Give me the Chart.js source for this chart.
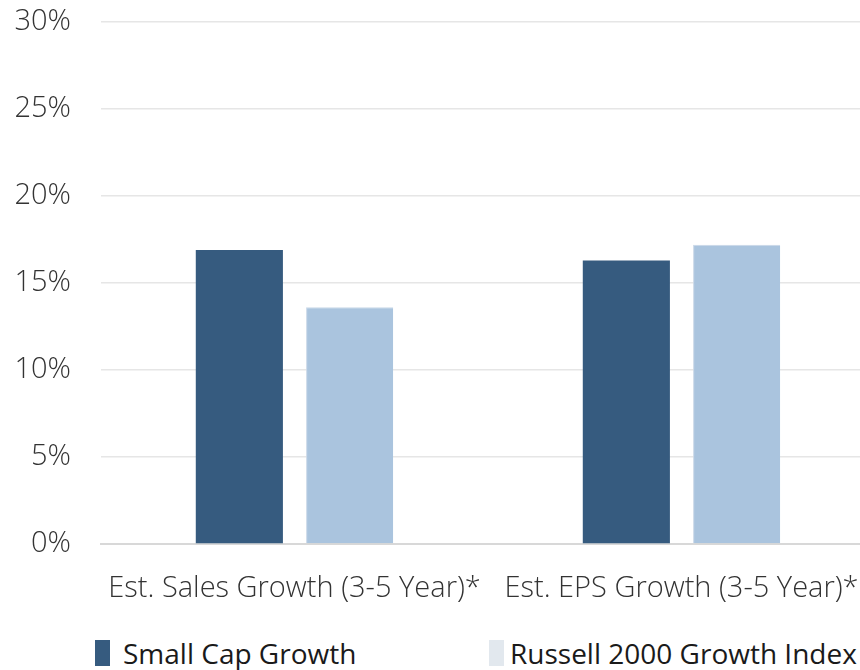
<!DOCTYPE html>
<html>
<head>
<meta charset="utf-8">
<script src="https://cdn.jsdelivr.net/npm/chart.js"></script>
<style>
  html, body { margin: 0; padding: 0; background: #fff; overflow: hidden; }
  #wrap { position: relative; width: 860px; height: 670px; overflow: hidden; }
  #chart-box { position: absolute; left: 0; top: 0; width: 875px; height: 620px; }
  .legend-item { position: absolute; top: 634px; font-family: "Open Sans", sans-serif; font-size: 28px; color: #1a1a1a; white-space: nowrap; }
  .legend-item span.box { position: absolute; top: 6px; width: 15px; height: 26px; }
  .legend-item span.txt { position: absolute; top: 0; }
</style>
</head>
<body>
<div id="wrap">
  <div id="chart-box"><canvas id="growthChart"></canvas></div>
  <div id="legend"></div>
</div>
<script>
// Данные графика
const categories = ['Est. Sales Growth (3-5 Year)*', 'Est. EPS Growth (3-5 Year)*'];
const seriesNames = ['Small Cap Growth', 'Russell 2000 Growth Index'];
const smallCapValues = [16.9, 16.3];
const russellValues = [13.6, 17.2];
const yTicks = [0, 5, 10, 15, 20, 25, 30];

const barColors = ['#365b7f', '#aac4de'];
const legendColors = ['#365b7f', '#e2e8ee'];

window.addEventListener('DOMContentLoaded', () => {
  const canvas = document.getElementById('growthChart');

  new Chart(canvas, {
    type: 'bar',
    data: {
      labels: categories,
      datasets: [
        {
          label: seriesNames[0],
          data: smallCapValues,
          backgroundColor: barColors[0],
          categoryPercentage: 0.57,
          barPercentage: 0.79
        },
        {
          label: seriesNames[1],
          data: russellValues,
          backgroundColor: barColors[1],
          borderColor: '#c9d8e8',
          borderWidth: { top: 1, left: 1, right: 0, bottom: 0 },
          categoryPercentage: 0.57,
          barPercentage: 0.79
        }
      ]
    },
    options: {
      responsive: true,
      maintainAspectRatio: false,
      animation: false,
      layout: { padding: { top: 22, left: 0, right: 0, bottom: 0 } },
      plugins: {
        legend: { display: false },
        tooltip: { enabled: false }
      },
      scales: {
        x: {
          grid: { display: false, drawTicks: false },
          border: { display: true, color: '#d8d8d8', width: 2 },
          ticks: {
            padding: 27,
            maxRotation: 0,
            minRotation: 0,
            autoSkip: false,
            color: '#333',
            font: { family: 'Open Sans', size: 29, weight: '300' }
          },
          afterFit: (s) => { s.height = 76; s.paddingLeft = 0; s.paddingRight = 0; }
        },
        y: {
          min: 0,
          max: 30,
          afterBuildTicks: (s) => { s.ticks = yTicks.map(v => ({ value: v })); },
          grid: { color: '#e6e6e6', lineWidth: 1.5, drawTicks: false },
          border: { display: false },
          ticks: {
            padding: 30,
            color: '#333',
            font: { family: 'Open Sans', size: 29, weight: '300' },
            callback: (v) => v + '%'
          },
          afterFit: (s) => { s.width = 101; s.paddingTop = 0; s.paddingBottom = 0; }
        }
      }
    }
  });

  // Легенда в HTML
  const legend = document.getElementById('legend');
  const legendPos = [{ box: 95, text: 123 }, { box: 489, text: 510 }];
  seriesNames.forEach((name, i) => {
    const item = document.createElement('div');
    item.className = 'legend-item';
    item.style.left = '0px';
    item.innerHTML = '<span class="box" style="left:' + legendPos[i].box + 'px;background:' + legendColors[i] + '"></span>' +
      '<span class="txt" style="left:' + legendPos[i].text + 'px">' + name + '</span>';
    legend.appendChild(item);
  });
});
</script>
</body>
</html>
